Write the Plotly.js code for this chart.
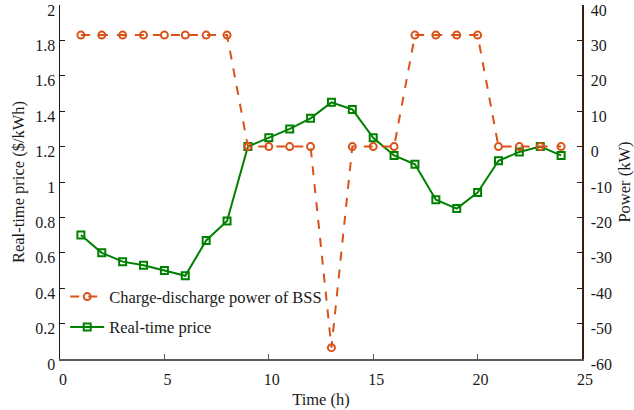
<!DOCTYPE html>
<html><head><meta charset="utf-8">
<script src="https://cdn.plot.ly/plotly-3.0.1.min.js"></script>
<style>body{margin:0;}#chart{width:634px;height:410px;}</style>
</head><body><div id="chart"></div>
<script>
const hours = [1,2,3,4,5,6,7,8,9,10,11,12,13,14,15,16,17,18,19,20,21,22,23,24];
const powerBSS = [31.5,31.5,31.5,31.5,31.5,31.5,31.5,31.5,0,0,0,0,-56.8,0,0,0,31.5,31.5,31.5,31.5,0,0,0,0];
const price = [0.70,0.60,0.55,0.53,0.50,0.47,0.67,0.78,1.20,1.25,1.30,1.36,1.45,1.41,1.25,1.15,1.10,0.90,0.85,0.94,1.12,1.17,1.20,1.15];
const xTicks = [0,5,10,15,20,25];
const priceTicks = [0,0.2,0.4,0.6,0.8,1,1.2,1.4,1.6,1.8,2];
const powerTicks = [-60,-50,-40,-30,-20,-10,0,10,20,30,40];
const powerName = 'Charge-discharge power of BSS';
const priceName = 'Real-time price';

const orange = '#D95319', green = '#008000';
const fam = 'Liberation Serif, Times New Roman, serif';
const font = {family:fam, size:16, color:'#1a1a1a'};
const bigFont = {family:fam, size:16.5, color:'#1a1a1a'};

const traces = [
  {x:hours, y:powerBSS, name:powerName, yaxis:'y2', mode:'lines+markers', legendgroup:'a',
   line:{color:orange, width:2, dash:'dash'},
   marker:{symbol:'circle-open', size:7, color:orange, line:{width:2}}},
  {x:hours, y:price, name:priceName, yaxis:'y', mode:'lines+markers', legendgroup:'b',
   line:{color:green, width:2},
   marker:{symbol:'square-open', size:7, color:green, line:{width:2}}}
];

const layout = {
  width:634, height:410,
  margin:{l:60, r:52, t:5, b:51},
  paper_bgcolor:'white', plot_bgcolor:'white',
  font:font,
  showlegend:true,
  legend:{x:0.01, y:0.225, xanchor:'left', yanchor:'top', bgcolor:'rgba(0,0,0,0)', tracegroupgap:6,
    itemwidth:34, font:bigFont},
  xaxis:{range:[0,25], tickvals:xTicks, ticktext:xTicks.map(String), ticks:'inside', ticklen:5, tickcolor:'#555',
    showline:true, linecolor:'#5a5a5a', linewidth:1.5, showgrid:false, zeroline:false,
    ticklabeloverflow:'allow', tickfont:font, ticklabelstandoff:5, ticklabelshift:3,
    title:{text:'Time (h)', font:bigFont, standoff:6}},
  yaxis:{range:[0,2], tickvals:priceTicks, ticktext:priceTicks.map(String),
    ticks:'inside', ticklen:5, tickcolor:'#1a1a1a', showline:true, linecolor:'#1a1a1a', linewidth:1.5,
    showgrid:false, zeroline:false, ticklabeloverflow:'allow', tickfont:font, ticklabelshift:5,
    title:{text:'Real-time price ($/kWh)', font:bigFont, standoff:6}},
  yaxis2:{range:[-60,40], tickvals:powerTicks, ticktext:powerTicks.map(String), overlaying:'y', side:'right',
    ticks:'inside', ticklen:5, tickcolor:'#3a1c12', showline:true, linecolor:'#3a1c12', linewidth:1.5,
    showgrid:false, zeroline:false, ticklabeloverflow:'allow', tickfont:font, ticklabelshift:5, ticklabelstandoff:4,
    title:{text:'Power (kW)', font:bigFont, standoff:8}}
};
Plotly.newPlot('chart', traces, layout, {displayModeBar:false, staticPlot:true});
</script></body></html>
